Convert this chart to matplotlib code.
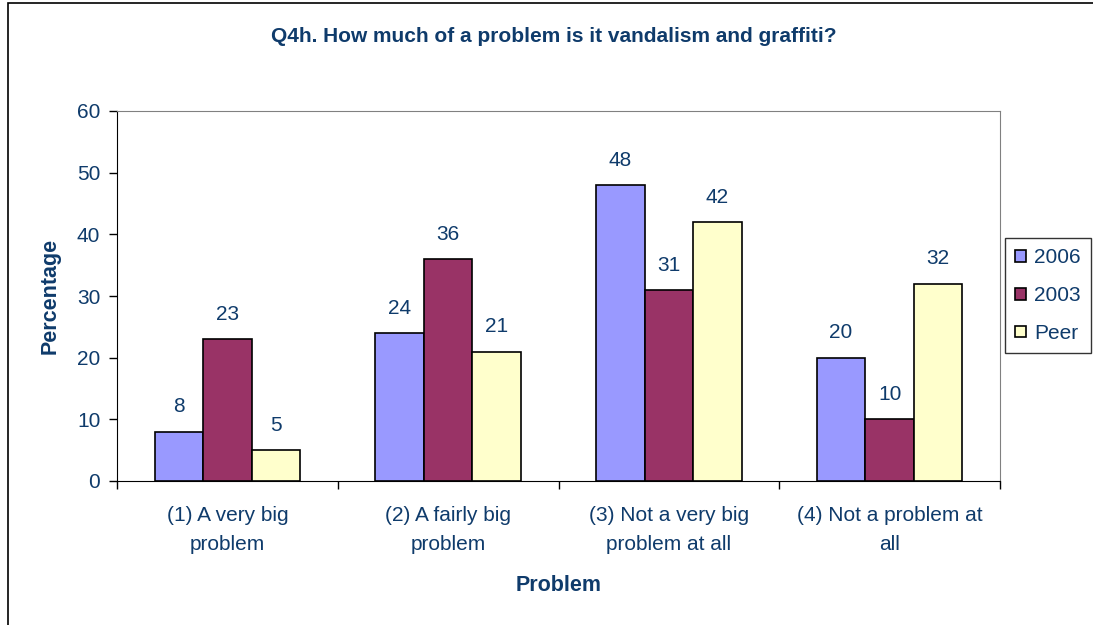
import numpy as np
import matplotlib.pyplot as plt
from matplotlib.patches import Rectangle

plt.rcParams['font.family'] = ['Liberation Sans', 'DejaVu Sans']

categories = ['(1) A very big\nproblem', '(2) A fairly big\nproblem',
              '(3) Not a very big\nproblem at all', '(4) Not a problem at\nall']
series = ['2006', '2003', 'Peer']
v2006 = [8, 24, 48, 20]
v2003 = [23, 36, 31, 10]
vpeer = [5, 21, 42, 32]
colors = ['#9999FF', '#993366', '#FFFFCC']
txt = '#0F3B6B'

fig = plt.figure(figsize=(10.93, 6.25), dpi=100)
fig.patches.append(Rectangle((8/1093, -0.1), 1.2, (622/625) + 0.1, transform=fig.transFigure,
                             fill=False, edgecolor='black', linewidth=1.2))
ax = fig.add_axes([117/1093, 1 - 481/625, 883/1093, 370/625])

x = np.arange(len(categories))
w = 0.22
for k, (vals, c, lab) in enumerate(zip([v2006, v2003, vpeer], colors, series)):
    pos = x + (k - 1) * w
    bars = ax.bar(pos, vals, w, color=c, edgecolor='black', linewidth=1.2, label=lab, zorder=3)
    for b, v in zip(bars, vals):
        ax.annotate(str(v), (b.get_x() + b.get_width()/2, v), xytext=(0, 11),
                    textcoords='offset points', ha='center', va='bottom',
                    fontsize=15, color=txt)

ax.set_xlim(-0.5, 3.5)
ax.set_ylim(0, 60)
ax.set_yticks(range(0, 61, 10))
ax.set_xticks(x)
ax.set_xticklabels(categories, fontsize=15, color=txt, linespacing=1.7)
ax.set_xticks(np.arange(-0.5, 4, 1), minor=True)
ax.tick_params(axis='x', which='major', length=0, pad=18)
ax.tick_params(axis='x', which='minor', length=6, width=1, direction='out')
ax.tick_params(axis='y', labelsize=15, labelcolor=txt, length=6, width=1, direction='out', pad=6)

for s in ['top', 'right']:
    ax.spines[s].set_color('#808080')
for s in ['left', 'bottom']:
    ax.spines[s].set_color('black')

ax.set_ylabel('Percentage', fontsize=15.5, fontweight='bold', color=txt, labelpad=12)
ax.set_xlabel('Problem', fontsize=15.5, fontweight='bold', color=txt, labelpad=15)
fig.text(554/1093, 1 - 37/625, 'Q4h. How much of a problem is it vandalism and graffiti?',
         ha='center', va='center', fontsize=15, fontweight='bold', color=txt)

leg = ax.legend(loc='upper left', bbox_to_anchor=(1005/1093, 1 - 238/625),
                bbox_transform=fig.transFigure, fontsize=15,
                frameon=True, fancybox=False, edgecolor='black', handlelength=0.5,
                handleheight=0.5, labelspacing=0.9, borderpad=0.5, handletextpad=0.4,
                borderaxespad=0)
leg.get_frame().set_linewidth(1)
for t in leg.get_texts():
    t.set_color(txt)

plt.savefig('out.png', dpi=100)
